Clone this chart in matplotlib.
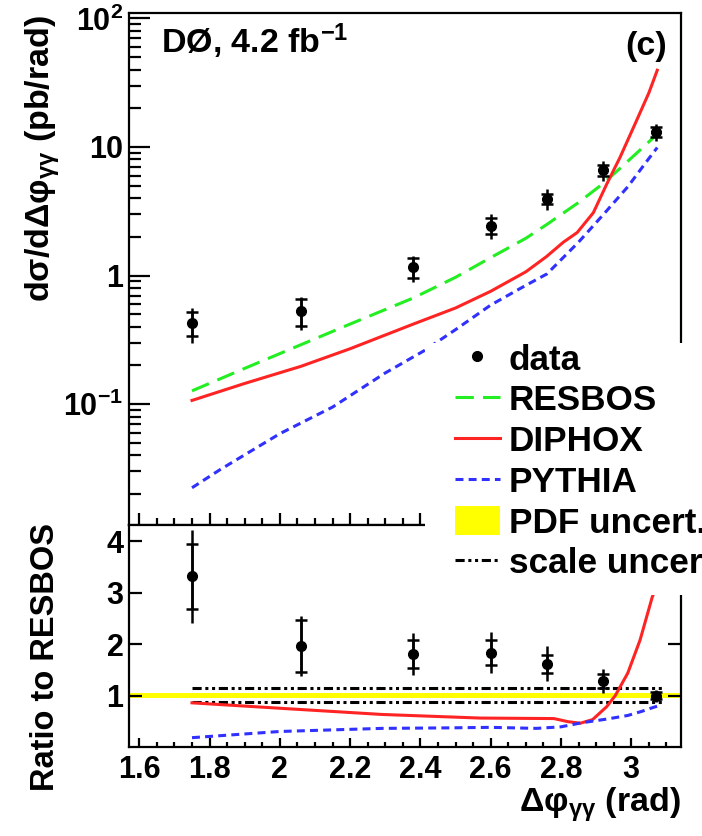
import numpy as np
import matplotlib
matplotlib.use("Agg")
import matplotlib.pyplot as plt
from matplotlib.ticker import (MultipleLocator, FixedLocator, FixedFormatter,
                               LogLocator, NullFormatter, FuncFormatter)
from matplotlib.lines import Line2D
from matplotlib.patches import Patch, Rectangle

plt.rcParams['font.family'] = ['Liberation Sans', 'DejaVu Sans']
plt.rcParams['font.weight'] = 'bold'
plt.rcParams['mathtext.fontset'] = 'custom'
plt.rcParams['mathtext.rm'] = 'Liberation Sans'
plt.rcParams['mathtext.it'] = 'Liberation Sans:italic'
plt.rcParams['mathtext.bf'] = 'Liberation Sans:bold'

# measured cross section vs delta phi
phi = [1.75, 2.06, 2.38, 2.60, 2.76, 2.92, 3.07]
xsec = [0.43, 0.53, 1.16, 2.45, 3.96, 6.6, 13.1]
xsec_stat = [0.09, 0.125, 0.20, 0.34, 0.38, 0.70, 1.15]
xsec_tot = [0.13, 0.155, 0.265, 0.54, 0.75, 1.19, 2.05]

# ratio data / RESBOS
ratio = [3.32, 1.97, 1.81, 1.84, 1.62, 1.29, 1.00]
ratio_stat = [0.63, 0.50, 0.27, 0.25, 0.17, 0.13, 0.07]
ratio_tot = [0.90, 0.58, 0.41, 0.40, 0.34, 0.23, 0.12]

# theory predictions (pb/rad)
resbos_x = [1.75, 1.90, 2.06, 2.20, 2.38, 2.50, 2.60, 2.70, 2.76, 2.85, 2.92, 2.97, 3.02, 3.074]
resbos_y = [0.127, 0.19, 0.29, 0.42, 0.67, 0.97, 1.38, 1.95, 2.5, 3.7, 5.2, 6.9, 9.2, 12.6]

diphox_x = [1.75, 1.90, 2.06, 2.20, 2.38, 2.50, 2.60, 2.70, 2.758, 2.807, 2.846,
            2.892, 2.931, 2.968, 3.014, 3.05, 3.074]
diphox_y = [0.107, 0.145, 0.197, 0.27, 0.42, 0.56, 0.755, 1.07, 1.40, 1.82, 2.16,
            3.08, 5.2, 8.3, 15.8, 26.3, 39.5]

pythia_x = [1.75, 1.83, 2.0, 2.15, 2.30, 2.41, 2.50, 2.60, 2.70, 2.76, 2.85,
            2.92, 2.99, 3.045, 3.074]
pythia_y = [0.0224, 0.031, 0.059, 0.095, 0.175, 0.26, 0.38, 0.59, 0.84, 1.03, 1.82,
            2.97, 4.9, 7.8, 9.9]

# theory / RESBOS
diphox_rx = [1.75, 2.0, 2.29, 2.57, 2.78, 2.82, 2.855, 2.89, 2.93, 2.954, 2.99, 3.025, 3.06, 3.074]
diphox_r = [0.865, 0.76, 0.64, 0.57, 0.56, 0.50, 0.47, 0.54, 0.79, 1.0, 1.44, 2.08, 2.92, 3.15]

pythia_rx = [1.75, 2.0, 2.29, 2.48, 2.60, 2.73, 2.80, 2.86, 2.93, 2.99, 3.03, 3.06, 3.074]
pythia_r = [0.19, 0.31, 0.37, 0.38, 0.39, 0.37, 0.40, 0.48, 0.55, 0.62, 0.70, 0.77, 0.80]

pdf_x = [np.pi / 2, np.pi]
pdf_lo = [0.95, 0.95]
pdf_hi = [1.05, 1.05]

scale_x = [1.75, 3.09]
scale_hi = [1.155, 1.155]
scale_lo = [0.88, 0.88]

dec_ticks = [0.1, 1, 10, 100]
dec_labels = ['10$^{-1}$', '1', '10', '10$^{2}$']
ratio_ticks = [1, 2, 3, 4]

legend_labels = ['data', 'RESBOS', 'DIPHOX', 'PYTHIA', 'PDF uncert.', 'scale uncertainty']

c_green = '#22ee22'
c_red = '#ff2424'
c_blue = '#3030ff'
green_dash = (6, 3)
blue_dash = (2.6, 1.7)
scale_dash = (3, 1.2, 1, 1.2, 1, 1.2)

fig = plt.figure(figsize=(7.02, 8.36), dpi=100)
ax1 = fig.add_axes([0.1838, 0.3720, 0.7863, 0.6124])
ax2 = fig.add_axes([0.1838, 0.1065, 0.7863, 0.2655])

# ---- top: cross section
ax1.plot(resbos_x, resbos_y, color=c_green, lw=2.2, dashes=green_dash)
ax1.plot(diphox_x, diphox_y, color=c_red, lw=2.2)
ax1.plot(pythia_x, pythia_y, color=c_blue, lw=2.2, dashes=blue_dash)
ax1.errorbar(phi, xsec, yerr=xsec_tot, fmt='none', ecolor='k', elinewidth=1.8)
ax1.errorbar(phi, xsec, yerr=xsec_stat, fmt='o', color='k', ms=7,
             elinewidth=1.8, capsize=4, capthick=1.8)

ax1.set_yscale('log')
ax1.set_xlim(np.pi / 2, np.pi)
ax1.set_ylim(0.0115, 110)
ax1.yaxis.set_major_locator(FixedLocator(dec_ticks))
ax1.yaxis.set_major_formatter(FixedFormatter(dec_labels))
ax1.yaxis.set_minor_locator(LogLocator(base=10, subs=np.arange(2, 10), numticks=20))
ax1.yaxis.set_minor_formatter(NullFormatter())
ax1.xaxis.set_major_locator(MultipleLocator(0.2))
ax1.xaxis.set_minor_locator(MultipleLocator(0.05))
ax1.tick_params(which='both', direction='in', top=False, right=False,
                labelbottom=False, width=1.6, labelsize=22, pad=4)
ax1.tick_params(axis='y', which='major', length=15)
ax1.tick_params(axis='y', which='minor', length=8.6)
ax1.tick_params(axis='x', which='major', length=8.6)
ax1.tick_params(axis='x', which='minor', length=5)

ax1.text(0.058, 0.922, 'DØ, 4.2 fb$^{-1}$', transform=ax1.transAxes,
         fontsize=24.5, va='baseline')
ax1.text(0.975, 0.918, '(c)', transform=ax1.transAxes, fontsize=24.5,
         ha='right', va='baseline')

# ---- bottom: ratio to RESBOS
ax2.fill_between(pdf_x, pdf_lo, pdf_hi, color='#ffff00', lw=0)
ax2.plot(scale_x, scale_hi, color='k', lw=2.2, dashes=scale_dash)
ax2.plot(scale_x, scale_lo, color='k', lw=2.2, dashes=scale_dash)
ax2.plot(diphox_rx, diphox_r, color=c_red, lw=2.2)
ax2.plot(pythia_rx, pythia_r, color=c_blue, lw=2.2, dashes=blue_dash)
ax2.errorbar(phi, ratio, yerr=ratio_tot, fmt='none', ecolor='k', elinewidth=1.8)
ax2.errorbar(phi, ratio, yerr=ratio_stat, fmt='o', color='k', ms=7,
             elinewidth=1.8, capsize=4, capthick=1.8)

ax2.set_xlim(np.pi / 2, np.pi)
ax2.set_ylim(0.01, 4.31)
ax2.yaxis.set_major_locator(FixedLocator(ratio_ticks))
ax2.xaxis.set_major_locator(MultipleLocator(0.2))
ax2.xaxis.set_minor_locator(MultipleLocator(0.05))
ax2.xaxis.set_major_formatter(FuncFormatter(lambda v, p: '%g' % round(v, 1)))
ax2.tick_params(which='both', direction='in', top=False, width=1.6, labelsize=22)
ax2.tick_params(axis='y', which='major', length=9.4, right=True, pad=4)
ax2.tick_params(axis='x', which='major', length=6.5, pad=6)
ax2.tick_params(axis='x', which='minor', length=3.6)

for ax in (ax1, ax2):
    for sp in ax.spines.values():
        sp.set_linewidth(1.6)

fig.text(43 / 702, 1 - 15 / 836,
         r'd$\mathrm{\sigma}$/d$\mathrm{\Delta\varphi_{\gamma\gamma}}$ (pb/rad)',
         rotation=90, ha='center', va='top', fontsize=24.5)
fig.text(46 / 702, 1 - 523 / 836, 'Ratio to RESBOS', rotation=90,
         ha='center', va='top', fontsize=23.5)
fig.text(681 / 702, 1 - 812 / 836, r'$\mathrm{\Delta\varphi_{\gamma\gamma}}$ (rad)',
         ha='right', va='baseline', fontsize=24.5)

# legend sits on a white box that overlaps both panels
fig.add_artist(Rectangle((425 / 702, 1 - 595 / 836), 0.5, 252 / 836,
                         transform=fig.transFigure, facecolor='white',
                         edgecolor='none', zorder=5))
handles = [
    Line2D([], [], ls='none', marker='o', color='k', ms=7),
    Line2D([], [], color=c_green, lw=2.2, dashes=green_dash),
    Line2D([], [], color=c_red, lw=2.2),
    Line2D([], [], color=c_blue, lw=2.2, dashes=blue_dash),
    Patch(facecolor='#ffff00', edgecolor='none'),
    Line2D([], [], color='k', lw=2.2, dashes=scale_dash),
]
leg = fig.legend(handles, legend_labels, loc='upper left',
                 bbox_to_anchor=(455 / 702, 1 - 343 / 836), frameon=False,
                 fontsize=25.3, handlelength=1.28, handletextpad=0.25,
                 labelspacing=0.2, borderpad=0, borderaxespad=0, handleheight=0.9)
leg.set_zorder(6)

fig.savefig('out.png', dpi=100)
